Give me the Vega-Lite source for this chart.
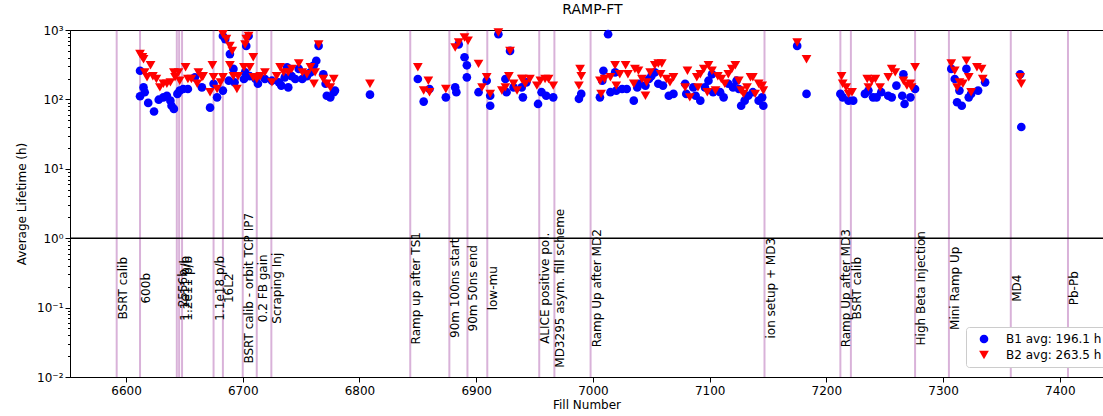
{
  "$schema": "https://vega.github.io/schema/vega-lite/v6.json",
  "width": 1033,
  "height": 347,
  "autosize": "none",
  "padding": {"left": 70, "top": 30, "right": 0, "bottom": 39},
  "title": {"text": "RAMP-FT", "fontSize": 14, "fontWeight": "normal", "font": "DejaVu Sans", "color": "black", "offset": 7, "dx": 6},
  "config": {
    "font": "DejaVu Sans",
    "view": {"stroke": "black", "strokeWidth": 1}
  },
  "datasets": {
    "events": [
      {"fill": 6592, "label": "BSRT calib"},
      {"fill": 6612, "label": "600b"},
      {"fill": 6643.5, "label": "2556b"},
      {"fill": 6645.5, "label": "1.1e11 p/b"},
      {"fill": 6648, "label": "1.2e11 p/b"},
      {"fill": 6675, "label": "1.1e18 p/b"},
      {"fill": 6683, "label": "16L2"},
      {"fill": 6700, "label": "BSRT calib - orbit TCP IP7"},
      {"fill": 6712, "label": "0.2 FB gain"},
      {"fill": 6724.5, "label": "Scraping Inj"},
      {"fill": 6843.5, "label": "Ramp up after TS1"},
      {"fill": 6877, "label": "90m 100ns start"},
      {"fill": 6892.5, "label": "90m 50ns end"},
      {"fill": 6909.5, "label": "low-mu"},
      {"fill": 6954, "label": "ALICE positive pol."},
      {"fill": 6967, "label": "MD3295 asym. fill scheme"},
      {"fill": 6998, "label": "Ramp Up after MD2"},
      {"fill": 7147, "label": "ion setup + MD3"},
      {"fill": 7212, "label": "Ramp Up after MD3"},
      {"fill": 7221, "label": "BSRT calib"},
      {"fill": 7276, "label": "High Beta Injection"},
      {"fill": 7305, "label": "Mini Ramp Up"},
      {"fill": 7358, "label": "MD4"},
      {"fill": 7407, "label": "Pb-Pb"}
    ],
    "lifetimes": [
      {"fill": 6612, "lt": 259, "beam": "B1 avg: 196.1 h"},
      {"fill": 6612, "lt": 111, "beam": "B1 avg: 196.1 h"},
      {"fill": 6615, "lt": 149, "beam": "B1 avg: 196.1 h"},
      {"fill": 6616, "lt": 127, "beam": "B1 avg: 196.1 h"},
      {"fill": 6619, "lt": 89, "beam": "B1 avg: 196.1 h"},
      {"fill": 6624, "lt": 67, "beam": "B1 avg: 196.1 h"},
      {"fill": 6628, "lt": 99, "beam": "B1 avg: 196.1 h"},
      {"fill": 6632, "lt": 107, "beam": "B1 avg: 196.1 h"},
      {"fill": 6635, "lt": 113, "beam": "B1 avg: 196.1 h"},
      {"fill": 6638, "lt": 96, "beam": "B1 avg: 196.1 h"},
      {"fill": 6639, "lt": 81, "beam": "B1 avg: 196.1 h"},
      {"fill": 6641, "lt": 73, "beam": "B1 avg: 196.1 h"},
      {"fill": 6644, "lt": 120, "beam": "B1 avg: 196.1 h"},
      {"fill": 6646, "lt": 134, "beam": "B1 avg: 196.1 h"},
      {"fill": 6649, "lt": 141, "beam": "B1 avg: 196.1 h"},
      {"fill": 6653, "lt": 141, "beam": "B1 avg: 196.1 h"},
      {"fill": 6659, "lt": 208, "beam": "B1 avg: 196.1 h"},
      {"fill": 6665, "lt": 149, "beam": "B1 avg: 196.1 h"},
      {"fill": 6672, "lt": 76, "beam": "B1 avg: 196.1 h"},
      {"fill": 6675, "lt": 168, "beam": "B1 avg: 196.1 h"},
      {"fill": 6678, "lt": 107, "beam": "B1 avg: 196.1 h"},
      {"fill": 6683, "lt": 134, "beam": "B1 avg: 196.1 h"},
      {"fill": 6683, "lt": 820, "beam": "B1 avg: 196.1 h"},
      {"fill": 6685, "lt": 740, "beam": "B1 avg: 196.1 h"},
      {"fill": 6689, "lt": 450, "beam": "B1 avg: 196.1 h"},
      {"fill": 6688, "lt": 186, "beam": "B1 avg: 196.1 h"},
      {"fill": 6692, "lt": 275, "beam": "B1 avg: 196.1 h"},
      {"fill": 6693, "lt": 176, "beam": "B1 avg: 196.1 h"},
      {"fill": 6701, "lt": 197, "beam": "B1 avg: 196.1 h"},
      {"fill": 6703, "lt": 590, "beam": "B1 avg: 196.1 h"},
      {"fill": 6705, "lt": 820, "beam": "B1 avg: 196.1 h"},
      {"fill": 6702, "lt": 245, "beam": "B1 avg: 196.1 h"},
      {"fill": 6706, "lt": 216, "beam": "B1 avg: 196.1 h"},
      {"fill": 6711, "lt": 197, "beam": "B1 avg: 196.1 h"},
      {"fill": 6713, "lt": 168, "beam": "B1 avg: 196.1 h"},
      {"fill": 6719, "lt": 197, "beam": "B1 avg: 196.1 h"},
      {"fill": 6725, "lt": 186, "beam": "B1 avg: 196.1 h"},
      {"fill": 6731, "lt": 176, "beam": "B1 avg: 196.1 h"},
      {"fill": 6733, "lt": 158, "beam": "B1 avg: 196.1 h"},
      {"fill": 6736, "lt": 208, "beam": "B1 avg: 196.1 h"},
      {"fill": 6739, "lt": 149, "beam": "B1 avg: 196.1 h"},
      {"fill": 6738, "lt": 291, "beam": "B1 avg: 196.1 h"},
      {"fill": 6742, "lt": 216, "beam": "B1 avg: 196.1 h"},
      {"fill": 6745, "lt": 197, "beam": "B1 avg: 196.1 h"},
      {"fill": 6748, "lt": 275, "beam": "B1 avg: 196.1 h"},
      {"fill": 6751, "lt": 197, "beam": "B1 avg: 196.1 h"},
      {"fill": 6755, "lt": 216, "beam": "B1 avg: 196.1 h"},
      {"fill": 6758, "lt": 245, "beam": "B1 avg: 196.1 h"},
      {"fill": 6761, "lt": 310, "beam": "B1 avg: 196.1 h"},
      {"fill": 6763, "lt": 361, "beam": "B1 avg: 196.1 h"},
      {"fill": 6765, "lt": 590, "beam": "B1 avg: 196.1 h"},
      {"fill": 6769, "lt": 230, "beam": "B1 avg: 196.1 h"},
      {"fill": 6771, "lt": 168, "beam": "B1 avg: 196.1 h"},
      {"fill": 6772, "lt": 113, "beam": "B1 avg: 196.1 h"},
      {"fill": 6775, "lt": 107, "beam": "B1 avg: 196.1 h"},
      {"fill": 6778, "lt": 127, "beam": "B1 avg: 196.1 h"},
      {"fill": 6779, "lt": 134, "beam": "B1 avg: 196.1 h"},
      {"fill": 6809, "lt": 117, "beam": "B1 avg: 196.1 h"},
      {"fill": 6850, "lt": 197, "beam": "B1 avg: 196.1 h"},
      {"fill": 6855, "lt": 93, "beam": "B1 avg: 196.1 h"},
      {"fill": 6860, "lt": 141, "beam": "B1 avg: 196.1 h"},
      {"fill": 6874, "lt": 107, "beam": "B1 avg: 196.1 h"},
      {"fill": 6882, "lt": 149, "beam": "B1 avg: 196.1 h"},
      {"fill": 6883, "lt": 127, "beam": "B1 avg: 196.1 h"},
      {"fill": 6885, "lt": 620, "beam": "B1 avg: 196.1 h"},
      {"fill": 6890, "lt": 405, "beam": "B1 avg: 196.1 h"},
      {"fill": 6892, "lt": 310, "beam": "B1 avg: 196.1 h"},
      {"fill": 6892, "lt": 208, "beam": "B1 avg: 196.1 h"},
      {"fill": 6902, "lt": 127, "beam": "B1 avg: 196.1 h"},
      {"fill": 6909, "lt": 186, "beam": "B1 avg: 196.1 h"},
      {"fill": 6912, "lt": 81, "beam": "B1 avg: 196.1 h"},
      {"fill": 6912, "lt": 113, "beam": "B1 avg: 196.1 h"},
      {"fill": 6919, "lt": 870, "beam": "B1 avg: 196.1 h"},
      {"fill": 6925, "lt": 197, "beam": "B1 avg: 196.1 h"},
      {"fill": 6926, "lt": 127, "beam": "B1 avg: 196.1 h"},
      {"fill": 6929, "lt": 500, "beam": "B1 avg: 196.1 h"},
      {"fill": 6932, "lt": 149, "beam": "B1 avg: 196.1 h"},
      {"fill": 6939, "lt": 149, "beam": "B1 avg: 196.1 h"},
      {"fill": 6940, "lt": 107, "beam": "B1 avg: 196.1 h"},
      {"fill": 6943, "lt": 176, "beam": "B1 avg: 196.1 h"},
      {"fill": 6953, "lt": 86, "beam": "B1 avg: 196.1 h"},
      {"fill": 6956, "lt": 127, "beam": "B1 avg: 196.1 h"},
      {"fill": 6960, "lt": 113, "beam": "B1 avg: 196.1 h"},
      {"fill": 6966, "lt": 107, "beam": "B1 avg: 196.1 h"},
      {"fill": 6988, "lt": 102, "beam": "B1 avg: 196.1 h"},
      {"fill": 6990, "lt": 120, "beam": "B1 avg: 196.1 h"},
      {"fill": 7006, "lt": 107, "beam": "B1 avg: 196.1 h"},
      {"fill": 7008, "lt": 186, "beam": "B1 avg: 196.1 h"},
      {"fill": 7009, "lt": 259, "beam": "B1 avg: 196.1 h"},
      {"fill": 7013, "lt": 870, "beam": "B1 avg: 196.1 h"},
      {"fill": 7015, "lt": 127, "beam": "B1 avg: 196.1 h"},
      {"fill": 7019, "lt": 245, "beam": "B1 avg: 196.1 h"},
      {"fill": 7020, "lt": 134, "beam": "B1 avg: 196.1 h"},
      {"fill": 7025, "lt": 141, "beam": "B1 avg: 196.1 h"},
      {"fill": 7029, "lt": 141, "beam": "B1 avg: 196.1 h"},
      {"fill": 7035, "lt": 96, "beam": "B1 avg: 196.1 h"},
      {"fill": 7038, "lt": 149, "beam": "B1 avg: 196.1 h"},
      {"fill": 7040, "lt": 168, "beam": "B1 avg: 196.1 h"},
      {"fill": 7045, "lt": 158, "beam": "B1 avg: 196.1 h"},
      {"fill": 7048, "lt": 197, "beam": "B1 avg: 196.1 h"},
      {"fill": 7050, "lt": 216, "beam": "B1 avg: 196.1 h"},
      {"fill": 7053, "lt": 245, "beam": "B1 avg: 196.1 h"},
      {"fill": 7056, "lt": 168, "beam": "B1 avg: 196.1 h"},
      {"fill": 7060, "lt": 158, "beam": "B1 avg: 196.1 h"},
      {"fill": 7065, "lt": 113, "beam": "B1 avg: 196.1 h"},
      {"fill": 7069, "lt": 120, "beam": "B1 avg: 196.1 h"},
      {"fill": 7079, "lt": 168, "beam": "B1 avg: 196.1 h"},
      {"fill": 7080, "lt": 120, "beam": "B1 avg: 196.1 h"},
      {"fill": 7086, "lt": 149, "beam": "B1 avg: 196.1 h"},
      {"fill": 7088, "lt": 113, "beam": "B1 avg: 196.1 h"},
      {"fill": 7092, "lt": 96, "beam": "B1 avg: 196.1 h"},
      {"fill": 7096, "lt": 149, "beam": "B1 avg: 196.1 h"},
      {"fill": 7099, "lt": 186, "beam": "B1 avg: 196.1 h"},
      {"fill": 7102, "lt": 230, "beam": "B1 avg: 196.1 h"},
      {"fill": 7103, "lt": 127, "beam": "B1 avg: 196.1 h"},
      {"fill": 7109, "lt": 127, "beam": "B1 avg: 196.1 h"},
      {"fill": 7112, "lt": 107, "beam": "B1 avg: 196.1 h"},
      {"fill": 7116, "lt": 168, "beam": "B1 avg: 196.1 h"},
      {"fill": 7120, "lt": 149, "beam": "B1 avg: 196.1 h"},
      {"fill": 7123, "lt": 186, "beam": "B1 avg: 196.1 h"},
      {"fill": 7125, "lt": 141, "beam": "B1 avg: 196.1 h"},
      {"fill": 7127, "lt": 81, "beam": "B1 avg: 196.1 h"},
      {"fill": 7130, "lt": 96, "beam": "B1 avg: 196.1 h"},
      {"fill": 7133, "lt": 113, "beam": "B1 avg: 196.1 h"},
      {"fill": 7137, "lt": 127, "beam": "B1 avg: 196.1 h"},
      {"fill": 7142, "lt": 96, "beam": "B1 avg: 196.1 h"},
      {"fill": 7145, "lt": 107, "beam": "B1 avg: 196.1 h"},
      {"fill": 7146, "lt": 81, "beam": "B1 avg: 196.1 h"},
      {"fill": 7175, "lt": 590, "beam": "B1 avg: 196.1 h"},
      {"fill": 7183, "lt": 120, "beam": "B1 avg: 196.1 h"},
      {"fill": 7212, "lt": 120, "beam": "B1 avg: 196.1 h"},
      {"fill": 7214, "lt": 107, "beam": "B1 avg: 196.1 h"},
      {"fill": 7219, "lt": 96, "beam": "B1 avg: 196.1 h"},
      {"fill": 7223, "lt": 96, "beam": "B1 avg: 196.1 h"},
      {"fill": 7233, "lt": 120, "beam": "B1 avg: 196.1 h"},
      {"fill": 7236, "lt": 134, "beam": "B1 avg: 196.1 h"},
      {"fill": 7240, "lt": 107, "beam": "B1 avg: 196.1 h"},
      {"fill": 7243, "lt": 107, "beam": "B1 avg: 196.1 h"},
      {"fill": 7247, "lt": 127, "beam": "B1 avg: 196.1 h"},
      {"fill": 7253, "lt": 113, "beam": "B1 avg: 196.1 h"},
      {"fill": 7256, "lt": 107, "beam": "B1 avg: 196.1 h"},
      {"fill": 7260, "lt": 158, "beam": "B1 avg: 196.1 h"},
      {"fill": 7266, "lt": 230, "beam": "B1 avg: 196.1 h"},
      {"fill": 7265, "lt": 113, "beam": "B1 avg: 196.1 h"},
      {"fill": 7267, "lt": 86, "beam": "B1 avg: 196.1 h"},
      {"fill": 7272, "lt": 107, "beam": "B1 avg: 196.1 h"},
      {"fill": 7276, "lt": 141, "beam": "B1 avg: 196.1 h"},
      {"fill": 7307, "lt": 275, "beam": "B1 avg: 196.1 h"},
      {"fill": 7310, "lt": 197, "beam": "B1 avg: 196.1 h"},
      {"fill": 7312, "lt": 91, "beam": "B1 avg: 196.1 h"},
      {"fill": 7316, "lt": 81, "beam": "B1 avg: 196.1 h"},
      {"fill": 7314, "lt": 134, "beam": "B1 avg: 196.1 h"},
      {"fill": 7320, "lt": 275, "beam": "B1 avg: 196.1 h"},
      {"fill": 7322, "lt": 107, "beam": "B1 avg: 196.1 h"},
      {"fill": 7324, "lt": 120, "beam": "B1 avg: 196.1 h"},
      {"fill": 7330, "lt": 134, "beam": "B1 avg: 196.1 h"},
      {"fill": 7336, "lt": 176, "beam": "B1 avg: 196.1 h"},
      {"fill": 7366, "lt": 230, "beam": "B1 avg: 196.1 h"},
      {"fill": 7367, "lt": 40, "beam": "B1 avg: 196.1 h"},
      {"fill": 6612, "lt": 450, "beam": "B2 avg: 263.5 h"},
      {"fill": 6614, "lt": 405, "beam": "B2 avg: 263.5 h"},
      {"fill": 6615, "lt": 380, "beam": "B2 avg: 263.5 h"},
      {"fill": 6616, "lt": 245, "beam": "B2 avg: 263.5 h"},
      {"fill": 6618, "lt": 208, "beam": "B2 avg: 263.5 h"},
      {"fill": 6621, "lt": 310, "beam": "B2 avg: 263.5 h"},
      {"fill": 6623, "lt": 216, "beam": "B2 avg: 263.5 h"},
      {"fill": 6626, "lt": 197, "beam": "B2 avg: 263.5 h"},
      {"fill": 6629, "lt": 149, "beam": "B2 avg: 263.5 h"},
      {"fill": 6632, "lt": 168, "beam": "B2 avg: 263.5 h"},
      {"fill": 6635, "lt": 168, "beam": "B2 avg: 263.5 h"},
      {"fill": 6638, "lt": 176, "beam": "B2 avg: 263.5 h"},
      {"fill": 6641, "lt": 245, "beam": "B2 avg: 263.5 h"},
      {"fill": 6642, "lt": 208, "beam": "B2 avg: 263.5 h"},
      {"fill": 6645, "lt": 245, "beam": "B2 avg: 263.5 h"},
      {"fill": 6646, "lt": 186, "beam": "B2 avg: 263.5 h"},
      {"fill": 6651, "lt": 291, "beam": "B2 avg: 263.5 h"},
      {"fill": 6653, "lt": 197, "beam": "B2 avg: 263.5 h"},
      {"fill": 6656, "lt": 197, "beam": "B2 avg: 263.5 h"},
      {"fill": 6661, "lt": 168, "beam": "B2 avg: 263.5 h"},
      {"fill": 6662, "lt": 245, "beam": "B2 avg: 263.5 h"},
      {"fill": 6665, "lt": 208, "beam": "B2 avg: 263.5 h"},
      {"fill": 6666, "lt": 216, "beam": "B2 avg: 263.5 h"},
      {"fill": 6672, "lt": 127, "beam": "B2 avg: 263.5 h"},
      {"fill": 6674, "lt": 310, "beam": "B2 avg: 263.5 h"},
      {"fill": 6675, "lt": 208, "beam": "B2 avg: 263.5 h"},
      {"fill": 6678, "lt": 141, "beam": "B2 avg: 263.5 h"},
      {"fill": 6681, "lt": 176, "beam": "B2 avg: 263.5 h"},
      {"fill": 6683, "lt": 208, "beam": "B2 avg: 263.5 h"},
      {"fill": 6683, "lt": 870, "beam": "B2 avg: 263.5 h"},
      {"fill": 6686, "lt": 740, "beam": "B2 avg: 263.5 h"},
      {"fill": 6689, "lt": 590, "beam": "B2 avg: 263.5 h"},
      {"fill": 6691, "lt": 500, "beam": "B2 avg: 263.5 h"},
      {"fill": 6689, "lt": 310, "beam": "B2 avg: 263.5 h"},
      {"fill": 6692, "lt": 216, "beam": "B2 avg: 263.5 h"},
      {"fill": 6695, "lt": 141, "beam": "B2 avg: 263.5 h"},
      {"fill": 6696, "lt": 216, "beam": "B2 avg: 263.5 h"},
      {"fill": 6701, "lt": 291, "beam": "B2 avg: 263.5 h"},
      {"fill": 6702, "lt": 620, "beam": "B2 avg: 263.5 h"},
      {"fill": 6703, "lt": 740, "beam": "B2 avg: 263.5 h"},
      {"fill": 6705, "lt": 820, "beam": "B2 avg: 263.5 h"},
      {"fill": 6706, "lt": 291, "beam": "B2 avg: 263.5 h"},
      {"fill": 6709, "lt": 405, "beam": "B2 avg: 263.5 h"},
      {"fill": 6709, "lt": 208, "beam": "B2 avg: 263.5 h"},
      {"fill": 6712, "lt": 197, "beam": "B2 avg: 263.5 h"},
      {"fill": 6715, "lt": 216, "beam": "B2 avg: 263.5 h"},
      {"fill": 6719, "lt": 245, "beam": "B2 avg: 263.5 h"},
      {"fill": 6725, "lt": 176, "beam": "B2 avg: 263.5 h"},
      {"fill": 6729, "lt": 216, "beam": "B2 avg: 263.5 h"},
      {"fill": 6732, "lt": 291, "beam": "B2 avg: 263.5 h"},
      {"fill": 6735, "lt": 245, "beam": "B2 avg: 263.5 h"},
      {"fill": 6739, "lt": 245, "beam": "B2 avg: 263.5 h"},
      {"fill": 6742, "lt": 275, "beam": "B2 avg: 263.5 h"},
      {"fill": 6748, "lt": 330, "beam": "B2 avg: 263.5 h"},
      {"fill": 6751, "lt": 245, "beam": "B2 avg: 263.5 h"},
      {"fill": 6755, "lt": 230, "beam": "B2 avg: 263.5 h"},
      {"fill": 6758, "lt": 291, "beam": "B2 avg: 263.5 h"},
      {"fill": 6761, "lt": 168, "beam": "B2 avg: 263.5 h"},
      {"fill": 6762, "lt": 245, "beam": "B2 avg: 263.5 h"},
      {"fill": 6765, "lt": 620, "beam": "B2 avg: 263.5 h"},
      {"fill": 6769, "lt": 197, "beam": "B2 avg: 263.5 h"},
      {"fill": 6772, "lt": 168, "beam": "B2 avg: 263.5 h"},
      {"fill": 6775, "lt": 149, "beam": "B2 avg: 263.5 h"},
      {"fill": 6778, "lt": 197, "beam": "B2 avg: 263.5 h"},
      {"fill": 6809, "lt": 168, "beam": "B2 avg: 263.5 h"},
      {"fill": 6850, "lt": 291, "beam": "B2 avg: 263.5 h"},
      {"fill": 6855, "lt": 134, "beam": "B2 avg: 263.5 h"},
      {"fill": 6859, "lt": 186, "beam": "B2 avg: 263.5 h"},
      {"fill": 6860, "lt": 127, "beam": "B2 avg: 263.5 h"},
      {"fill": 6874, "lt": 141, "beam": "B2 avg: 263.5 h"},
      {"fill": 6882, "lt": 560, "beam": "B2 avg: 263.5 h"},
      {"fill": 6885, "lt": 660, "beam": "B2 avg: 263.5 h"},
      {"fill": 6890, "lt": 780, "beam": "B2 avg: 263.5 h"},
      {"fill": 6893, "lt": 700, "beam": "B2 avg: 263.5 h"},
      {"fill": 6902, "lt": 325, "beam": "B2 avg: 263.5 h"},
      {"fill": 6905, "lt": 149, "beam": "B2 avg: 263.5 h"},
      {"fill": 6909, "lt": 208, "beam": "B2 avg: 263.5 h"},
      {"fill": 6912, "lt": 120, "beam": "B2 avg: 263.5 h"},
      {"fill": 6919, "lt": 920, "beam": "B2 avg: 263.5 h"},
      {"fill": 6928, "lt": 216, "beam": "B2 avg: 263.5 h"},
      {"fill": 6929, "lt": 500, "beam": "B2 avg: 263.5 h"},
      {"fill": 6922, "lt": 134, "beam": "B2 avg: 263.5 h"},
      {"fill": 6925, "lt": 149, "beam": "B2 avg: 263.5 h"},
      {"fill": 6932, "lt": 168, "beam": "B2 avg: 263.5 h"},
      {"fill": 6935, "lt": 134, "beam": "B2 avg: 263.5 h"},
      {"fill": 6939, "lt": 197, "beam": "B2 avg: 263.5 h"},
      {"fill": 6940, "lt": 197, "beam": "B2 avg: 263.5 h"},
      {"fill": 6942, "lt": 168, "beam": "B2 avg: 263.5 h"},
      {"fill": 6946, "lt": 197, "beam": "B2 avg: 263.5 h"},
      {"fill": 6952, "lt": 158, "beam": "B2 avg: 263.5 h"},
      {"fill": 6955, "lt": 186, "beam": "B2 avg: 263.5 h"},
      {"fill": 6959, "lt": 197, "beam": "B2 avg: 263.5 h"},
      {"fill": 6962, "lt": 197, "beam": "B2 avg: 263.5 h"},
      {"fill": 6966, "lt": 158, "beam": "B2 avg: 263.5 h"},
      {"fill": 6989, "lt": 275, "beam": "B2 avg: 263.5 h"},
      {"fill": 6990, "lt": 216, "beam": "B2 avg: 263.5 h"},
      {"fill": 6988, "lt": 158, "beam": "B2 avg: 263.5 h"},
      {"fill": 7006, "lt": 186, "beam": "B2 avg: 263.5 h"},
      {"fill": 7007, "lt": 120, "beam": "B2 avg: 263.5 h"},
      {"fill": 7010, "lt": 197, "beam": "B2 avg: 263.5 h"},
      {"fill": 7015, "lt": 208, "beam": "B2 avg: 263.5 h"},
      {"fill": 7019, "lt": 310, "beam": "B2 avg: 263.5 h"},
      {"fill": 7020, "lt": 158, "beam": "B2 avg: 263.5 h"},
      {"fill": 7023, "lt": 230, "beam": "B2 avg: 263.5 h"},
      {"fill": 7028, "lt": 310, "beam": "B2 avg: 263.5 h"},
      {"fill": 7030, "lt": 230, "beam": "B2 avg: 263.5 h"},
      {"fill": 7035, "lt": 168, "beam": "B2 avg: 263.5 h"},
      {"fill": 7036, "lt": 275, "beam": "B2 avg: 263.5 h"},
      {"fill": 7039, "lt": 259, "beam": "B2 avg: 263.5 h"},
      {"fill": 7042, "lt": 197, "beam": "B2 avg: 263.5 h"},
      {"fill": 7045, "lt": 113, "beam": "B2 avg: 263.5 h"},
      {"fill": 7046, "lt": 176, "beam": "B2 avg: 263.5 h"},
      {"fill": 7049, "lt": 245, "beam": "B2 avg: 263.5 h"},
      {"fill": 7053, "lt": 310, "beam": "B2 avg: 263.5 h"},
      {"fill": 7056, "lt": 330, "beam": "B2 avg: 263.5 h"},
      {"fill": 7059, "lt": 330, "beam": "B2 avg: 263.5 h"},
      {"fill": 7058, "lt": 230, "beam": "B2 avg: 263.5 h"},
      {"fill": 7063, "lt": 197, "beam": "B2 avg: 263.5 h"},
      {"fill": 7066, "lt": 176, "beam": "B2 avg: 263.5 h"},
      {"fill": 7069, "lt": 208, "beam": "B2 avg: 263.5 h"},
      {"fill": 7079, "lt": 149, "beam": "B2 avg: 263.5 h"},
      {"fill": 7081, "lt": 259, "beam": "B2 avg: 263.5 h"},
      {"fill": 7083, "lt": 107, "beam": "B2 avg: 263.5 h"},
      {"fill": 7089, "lt": 208, "beam": "B2 avg: 263.5 h"},
      {"fill": 7090, "lt": 149, "beam": "B2 avg: 263.5 h"},
      {"fill": 7092, "lt": 230, "beam": "B2 avg: 263.5 h"},
      {"fill": 7095, "lt": 275, "beam": "B2 avg: 263.5 h"},
      {"fill": 7098, "lt": 127, "beam": "B2 avg: 263.5 h"},
      {"fill": 7099, "lt": 310, "beam": "B2 avg: 263.5 h"},
      {"fill": 7102, "lt": 259, "beam": "B2 avg: 263.5 h"},
      {"fill": 7105, "lt": 134, "beam": "B2 avg: 263.5 h"},
      {"fill": 7107, "lt": 216, "beam": "B2 avg: 263.5 h"},
      {"fill": 7110, "lt": 197, "beam": "B2 avg: 263.5 h"},
      {"fill": 7113, "lt": 168, "beam": "B2 avg: 263.5 h"},
      {"fill": 7116, "lt": 230, "beam": "B2 avg: 263.5 h"},
      {"fill": 7119, "lt": 275, "beam": "B2 avg: 263.5 h"},
      {"fill": 7122, "lt": 310, "beam": "B2 avg: 263.5 h"},
      {"fill": 7125, "lt": 186, "beam": "B2 avg: 263.5 h"},
      {"fill": 7127, "lt": 134, "beam": "B2 avg: 263.5 h"},
      {"fill": 7129, "lt": 120, "beam": "B2 avg: 263.5 h"},
      {"fill": 7132, "lt": 149, "beam": "B2 avg: 263.5 h"},
      {"fill": 7135, "lt": 208, "beam": "B2 avg: 263.5 h"},
      {"fill": 7137, "lt": 208, "beam": "B2 avg: 263.5 h"},
      {"fill": 7139, "lt": 120, "beam": "B2 avg: 263.5 h"},
      {"fill": 7142, "lt": 168, "beam": "B2 avg: 263.5 h"},
      {"fill": 7145, "lt": 158, "beam": "B2 avg: 263.5 h"},
      {"fill": 7146, "lt": 134, "beam": "B2 avg: 263.5 h"},
      {"fill": 7175, "lt": 660, "beam": "B2 avg: 263.5 h"},
      {"fill": 7183, "lt": 380, "beam": "B2 avg: 263.5 h"},
      {"fill": 7213, "lt": 216, "beam": "B2 avg: 263.5 h"},
      {"fill": 7214, "lt": 168, "beam": "B2 avg: 263.5 h"},
      {"fill": 7219, "lt": 120, "beam": "B2 avg: 263.5 h"},
      {"fill": 7222, "lt": 127, "beam": "B2 avg: 263.5 h"},
      {"fill": 7217, "lt": 149, "beam": "B2 avg: 263.5 h"},
      {"fill": 7235, "lt": 197, "beam": "B2 avg: 263.5 h"},
      {"fill": 7236, "lt": 149, "beam": "B2 avg: 263.5 h"},
      {"fill": 7239, "lt": 186, "beam": "B2 avg: 263.5 h"},
      {"fill": 7242, "lt": 197, "beam": "B2 avg: 263.5 h"},
      {"fill": 7246, "lt": 149, "beam": "B2 avg: 263.5 h"},
      {"fill": 7253, "lt": 208, "beam": "B2 avg: 263.5 h"},
      {"fill": 7256, "lt": 275, "beam": "B2 avg: 263.5 h"},
      {"fill": 7259, "lt": 245, "beam": "B2 avg: 263.5 h"},
      {"fill": 7266, "lt": 186, "beam": "B2 avg: 263.5 h"},
      {"fill": 7269, "lt": 158, "beam": "B2 avg: 263.5 h"},
      {"fill": 7272, "lt": 168, "beam": "B2 avg: 263.5 h"},
      {"fill": 7273, "lt": 149, "beam": "B2 avg: 263.5 h"},
      {"fill": 7276, "lt": 291, "beam": "B2 avg: 263.5 h"},
      {"fill": 7307, "lt": 330, "beam": "B2 avg: 263.5 h"},
      {"fill": 7310, "lt": 259, "beam": "B2 avg: 263.5 h"},
      {"fill": 7312, "lt": 149, "beam": "B2 avg: 263.5 h"},
      {"fill": 7314, "lt": 176, "beam": "B2 avg: 263.5 h"},
      {"fill": 7317, "lt": 168, "beam": "B2 avg: 263.5 h"},
      {"fill": 7320, "lt": 361, "beam": "B2 avg: 263.5 h"},
      {"fill": 7322, "lt": 208, "beam": "B2 avg: 263.5 h"},
      {"fill": 7324, "lt": 127, "beam": "B2 avg: 263.5 h"},
      {"fill": 7329, "lt": 291, "beam": "B2 avg: 263.5 h"},
      {"fill": 7333, "lt": 275, "beam": "B2 avg: 263.5 h"},
      {"fill": 7334, "lt": 197, "beam": "B2 avg: 263.5 h"},
      {"fill": 7366, "lt": 208, "beam": "B2 avg: 263.5 h"},
      {"fill": 7367, "lt": 168, "beam": "B2 avg: 263.5 h"}
    ]
  },
  "layer": [
    {
      "data": {"name": "events"},
      "mark": {"type": "rule", "color": "purple", "opacity": 0.3, "strokeWidth": 2},
      "encoding": {
        "x": {
          "field": "fill", "type": "quantitative",
          "scale": {"domain": [6552, 7437], "nice": false, "zero": false},
          "axis": {
            "values": [6600, 6700, 6800, 6900, 7000, 7100, 7200, 7300, 7400],
            "format": "d", "grid": false,
            "title": "Fill Number", "titleFontSize": 12, "titleFontWeight": "normal", "titleColor": "black", "titlePadding": 3,
            "labelFontSize": 12, "labelColor": "black", "labelPadding": 3,
            "tickColor": "black", "tickSize": 5, "domainColor": "black"
          }
        }
      }
    },
    {
      "data": {"values": [{}]},
      "mark": {"type": "rule", "color": "black", "strokeWidth": 1.5},
      "encoding": {
        "y": {"datum": 1, "type": "quantitative", "scale": {"type": "log", "domain": [0.01, 1000], "nice": false}}
      }
    },
    {
      "data": {"name": "lifetimes"},
      "mark": {"type": "point", "filled": true, "opacity": 1},
      "encoding": {
        "x": {"field": "fill", "type": "quantitative"},
        "y": {
          "field": "lt", "type": "quantitative",
          "scale": {"type": "log", "domain": [0.01, 1000], "nice": false},
          "axis": {
            "values": [0.01,0.02,0.03,0.04,0.05,0.06,0.07,0.08,0.09,0.1,0.2,0.3,0.4,0.5,0.6,0.7,0.8,0.9,1,2,3,4,5,6,7,8,9,10,20,30,40,50,60,70,80,90,100,200,300,400,500,600,700,800,900,1000],
            "labelExpr": "abs(log(datum.value)/LN10 - round(log(datum.value)/LN10)) > 0.01 ? '' : datum.value > 500 ? '10³' : datum.value > 50 ? '10²' : datum.value > 5 ? '10¹' : datum.value > 0.5 ? '10⁰' : datum.value > 0.05 ? '10⁻¹' : '10⁻²'",
            "labelOverlap": false, "labelBound": false, "grid": false,
            "tickSize": {"condition": {"test": "abs(log(datum.value)/LN10 - round(log(datum.value)/LN10)) < 0.01", "value": 5}, "value": 2.5},
            "title": "Average Lifetime (h)", "titleFontSize": 12, "titleFontWeight": "normal", "titleColor": "black", "titlePadding": 8,
            "labelFontSize": 12, "labelColor": "black", "labelPadding": 2,
            "tickColor": "black", "domainColor": "black"
          }
        },
        "color": {
          "field": "beam", "type": "nominal",
          "scale": {"domain": ["B1 avg: 196.1 h", "B2 avg: 263.5 h"], "range": ["#0000ff", "#ff0000"]},
          "legend": {
            "title": null, "orient": "none", "legendX": 896, "legendY": 297,
            "fillColor": "white", "strokeColor": "#cccccc", "cornerRadius": 3, "padding": 6,
            "symbolOffset": 6, "labelOffset": 16, "labelFontSize": 12, "labelColor": "black",
            "symbolSize": 80, "rowPadding": 4, "symbolStrokeWidth": 0
          }
        },
        "shape": {
          "field": "beam", "type": "nominal",
          "scale": {"domain": ["B1 avg: 196.1 h", "B2 avg: 263.5 h"], "range": ["circle", "triangle-down"]}
        },
        "size": {
          "field": "beam", "type": "nominal",
          "scale": {"domain": ["B1 avg: 196.1 h", "B2 avg: 263.5 h"], "range": [75, 95]},
          "legend": null
        }
      }
    },
    {
      "data": {"name": "events"},
      "mark": {"type": "text", "angle": 270, "align": "center", "baseline": "top", "fontSize": 12, "color": "black", "dy": 1},
      "encoding": {
        "x": {"field": "fill", "type": "quantitative"},
        "y": {"datum": 0.19, "type": "quantitative"},
        "text": {"field": "label"}
      }
    }
  ]
}
